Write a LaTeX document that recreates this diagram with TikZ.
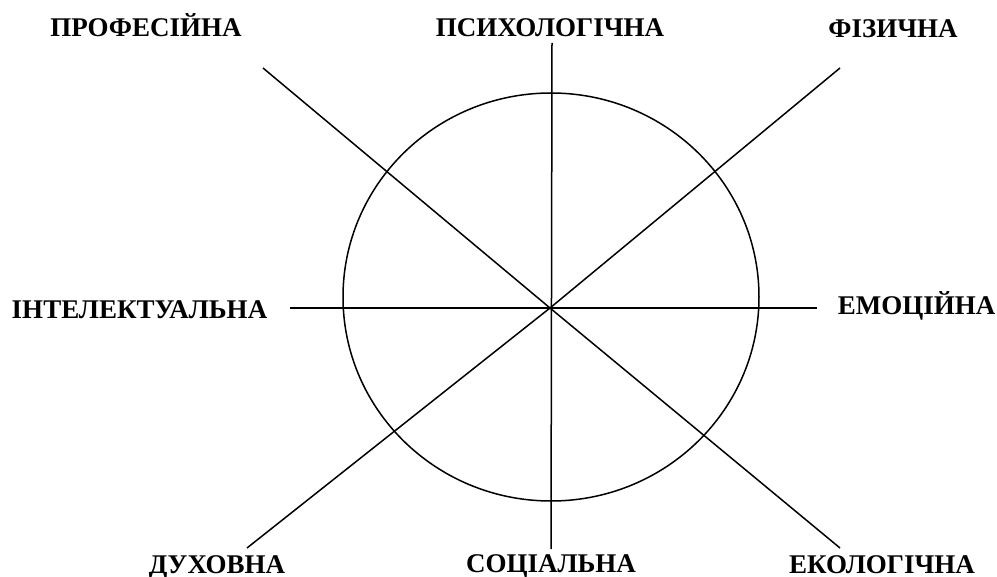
\documentclass[tikz,border=0pt]{standalone}
\usepackage{fontspec}
\setmainfont{Liberation Serif}
\begin{document}
\begin{tikzpicture}[x=1pt,y=-1pt,
  lab/.style={font=\fontsize{27}{27}\selectfont\bfseries, inner sep=0pt, anchor=base},
  ray/.style={line width=1.5pt, black}]
\useasboundingbox (0,0) rectangle (997,577);
\coordinate (c) at (550,308);
\coordinate (t) at (552,43);
\coordinate (b) at (551,549);
\coordinate (l) at (290,308);
\coordinate (r) at (817,308);
\coordinate (tl) at (263,68);
\coordinate (tr) at (840,68);
\coordinate (bl) at (247,548);
\coordinate (br) at (840,548);
\draw[ray] (551,297) ellipse [x radius=208, y radius=204];
\draw[ray] (t) -- (b);
\draw[ray] (l) -- (r);
\draw[ray] (tl) -- (c) -- (br);
\draw[ray] (tr) -- (c) -- (bl);
\node[lab] (prof) at (146,37) {ПРОФЕСІЙНА};
\node[lab] (psych) at (550,37) {ПСИХОЛОГІЧНА};
\node[lab] (phys) at (893,38) {ФІЗИЧНА};
\node[lab] (intel) at (139.5,319) {ІНТЕЛЕКТУАЛЬНА};
\node[lab] (emo) at (916.5,315) {ЕМОЦІЙНА};
\node[lab] (spirit) at (217,573) {ДУХОВНА};
\node[lab] (soc) at (551,572) {СОЦІАЛЬНА};
\node[lab] (eco) at (882,573) {ЕКОЛОГІЧНА};
\end{tikzpicture}
\end{document}
